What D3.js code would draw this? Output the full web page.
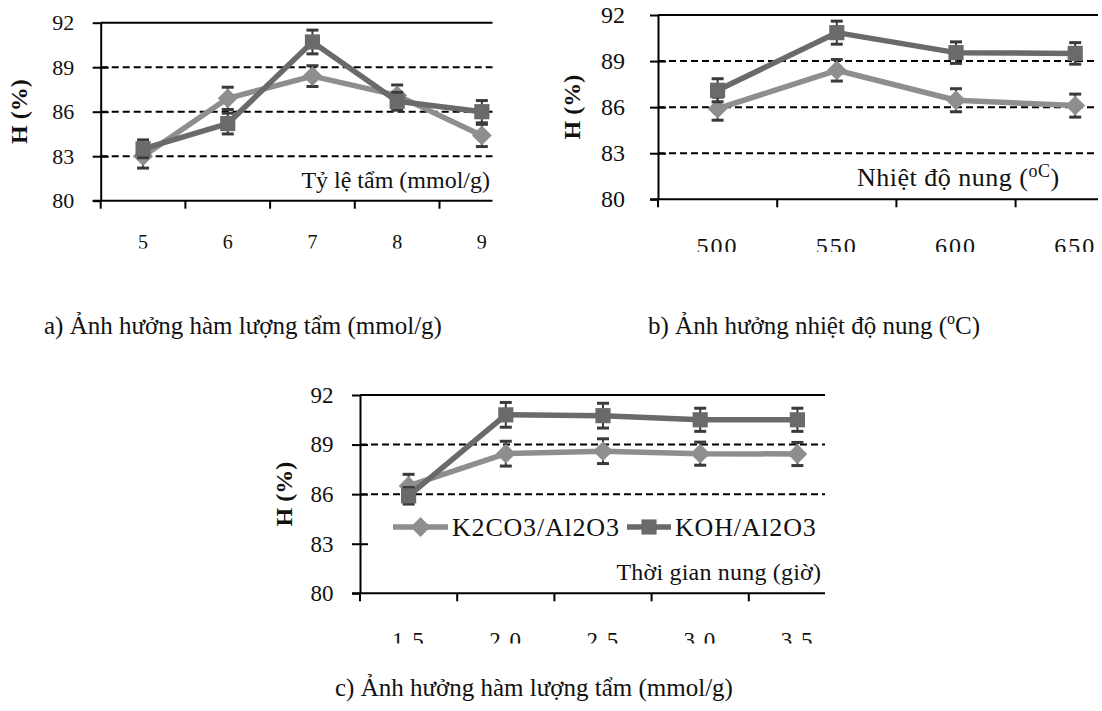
<!DOCTYPE html>
<html>
<head>
<meta charset="utf-8">
<script src="https://cdn.jsdelivr.net/npm/d3@7"></script>
<style>
  body { margin: 0; background: #fff; }
  svg, svg text { font-family: "Liberation Serif", "Times New Roman", Times, "DejaVu Serif", serif !important; }
</style>
</head>
<body>
<svg id="fig" width="1102" height="711"></svg>
<script>
// data
var yTicks = [80, 83, 86, 89, 92];
var seriesNames = ["K2CO3/Al2O3", "KOH/Al2O3"];

var catsA = ["5", "6", "7", "8", "9"];
var k2co3A = [83.0, 86.9, 88.4, 87.1, 84.4];
var kohA = [83.5, 85.2, 90.7, 86.7, 86.0];
var errK2co3A = [0.8, 0.75, 0.7, 0.7, 0.75];
var errKohA = [0.6, 0.7, 0.8, 0.6, 0.75];

var catsB = ["500", "550", "600", "650"];
var k2co3B = [85.9, 88.4, 86.45, 86.1];
var kohB = [87.1, 90.85, 89.55, 89.5];
var errK2co3B = [0.75, 0.7, 0.75, 0.75];
var errKohB = [0.75, 0.75, 0.7, 0.7];

var catsC = ["1.5", "2.0", "2.5", "3.0", "3.5"];
var k2co3C = [86.5, 88.45, 88.6, 88.45, 88.43];
var kohC = [85.9, 90.8, 90.75, 90.5, 90.5];
var errK2co3C = [0.7, 0.75, 0.75, 0.7, 0.7];
var errKohC = [0.5, 0.75, 0.75, 0.7, 0.7];

var colK2co3 = "#8e8e8e";
var colKoh = "#6a6a6a";
var colErr = "#3a3a3a";

var svg = d3.select("#fig");

function marker(shape) {
    return shape == "square"
        ? d3.symbol().type(d3.symbolSquare).size(230)
        : d3.symbol().type(d3.symbolDiamond2).size(250);
}

function drawPanel(p) {
    var g = svg.append("g").attr("id", p.id);

    var x = d3.scaleBand().domain(p.cats).range([p.x0, p.bandEnd]).paddingInner(0).paddingOuter(0);
    var y = d3.scaleLinear().domain([80, 92]).range([p.yBottom, p.yTop]);

    // dashed gridlines
    g.selectAll(".grid")
        .data(p.grid)
        .enter()
        .append("line")
        .attr("x1", p.x0).attr("x2", p.x1)
        .attr("y1", function(d) { return y(d); })
        .attr("y2", function(d) { return y(d); })
        .attr("stroke", "#000")
        .attr("stroke-width", 2)
        .attr("stroke-dasharray", "7,4");

    // top border of the plot area
    g.append("line")
        .attr("x1", p.x0).attr("x2", p.x1)
        .attr("y1", y(92)).attr("y2", y(92))
        .attr("stroke", "#000").attr("stroke-width", 2);

    // y axis with labels
    var yAxis = g.append("g")
        .attr("transform", "translate(" + p.x0 + ",0)")
        .call(d3.axisLeft(y).tickValues(yTicks).tickSizeInner(8).tickSizeOuter(0).tickPadding(p.yPad));
    yAxis.attr("font-family", null);
    yAxis.select(".domain").attr("stroke-width", 2);
    yAxis.selectAll(".tick line").attr("stroke-width", 2);
    yAxis.selectAll(".tick text")
        .attr("font-size", p.yFont)
        .attr("fill", "#111");
    // inner half of the crossing y ticks
    g.append("g")
        .attr("transform", "translate(" + p.x0 + ",0)")
        .call(d3.axisRight(y).tickValues(yTicks.slice(1, 4)).tickSize(8).tickFormat(""))
        .call(function(s) { s.select(".domain").remove(); s.selectAll("line").attr("stroke-width", 2); });

    // x axis line and boundary ticks
    g.append("line")
        .attr("x1", p.x0 - 8).attr("x2", p.x1)
        .attr("y1", y(80)).attr("y2", y(80))
        .attr("stroke", "#000").attr("stroke-width", 2);
    var bounds = p.cats.map(function(c) { return x(c); }).filter(function(v) { return v < p.x1; });
    g.selectAll(".xtick")
        .data(bounds)
        .enter()
        .append("line")
        .attr("x1", function(d) { return d; }).attr("x2", function(d) { return d; })
        .attr("y1", y(80)).attr("y2", y(80) + 8)
        .attr("stroke", "#000").attr("stroke-width", 2);

    // x labels, cut off at the bottom like the scan
    svg.append("clipPath").attr("id", "clip-" + p.id)
        .append("rect").attr("x", -40).attr("y", 0).attr("width", 1200).attr("height", p.labelCut - y(80));
    var xAxis = g.append("g")
        .attr("transform", "translate(0," + y(80) + ")")
        .attr("clip-path", "url(#clip-" + p.id + ")")
        .call(d3.axisBottom(x).tickSize(0).tickPadding(p.xPad));
    xAxis.attr("font-family", null);
    xAxis.select(".domain").remove();
    xAxis.selectAll(".tick text")
        .attr("font-size", p.xFont)
        .attr("letter-spacing", p.xSpacing)
        .attr("fill", "#111");

    // y title
    g.append("text")
        .attr("transform", "translate(" + p.yTitleX + "," + ((p.yTop + p.yBottom) / 2) + ") rotate(-90)")
        .attr("text-anchor", "middle")
        .attr("dominant-baseline", "central")
        .attr("font-size", 24)
        .attr("font-weight", "bold")
        .attr("fill", "#111")
        .text("H (%)");

    // x title inside the plot
    var t = g.append("text")
        .attr("x", p.titleX).attr("y", p.titleY)
        .attr("font-size", p.titleFont)
        .attr("letter-spacing", p.titleSpacing)
        .attr("fill", "#111");
    p.title(t);

    var cx = function(d, i) { return x(p.cats[i]) + x.bandwidth() / 2; };

    var series = [
        { vals: p.k2co3, err: p.errK2co3, col: colK2co3, shape: "diamond" },
        { vals: p.koh, err: p.errKoh, col: colKoh, shape: "square" }
    ];

    series.forEach(function(s) {
        var line = d3.line()
            .x(function(d, i) { return cx(d, i); })
            .y(function(d) { return y(d); });
        g.append("path")
            .attr("d", line(s.vals))
            .attr("fill", "none")
            .attr("stroke", s.col)
            .attr("stroke-width", 5.5)
            .attr("stroke-linejoin", "round");

        // error bars
        var eb = g.selectAll(null).data(s.vals).enter().append("g");
        eb.append("line")
            .attr("x1", cx).attr("x2", cx)
            .attr("y1", function(d, i) { return y(d + s.err[i]); })
            .attr("y2", function(d, i) { return y(d - s.err[i]); })
            .attr("stroke", colErr).attr("stroke-width", 2);
        [1, -1].forEach(function(sign) {
            eb.append("line")
                .attr("x1", function(d, i) { return cx(d, i) - 6; })
                .attr("x2", function(d, i) { return cx(d, i) + 6; })
                .attr("y1", function(d, i) { return y(d + sign * s.err[i]); })
                .attr("y2", function(d, i) { return y(d + sign * s.err[i]); })
                .attr("stroke", colErr).attr("stroke-width", 3);
        });

        // markers
        g.selectAll(null).data(s.vals).enter()
            .append("path")
            .attr("d", marker(s.shape))
            .attr("transform", function(d, i) { return "translate(" + cx(d, i) + "," + y(d) + ")"; })
            .attr("fill", s.col);
    });

    if (p.legend) {
        var lg = g.append("g");
        var items = [
            { name: seriesNames[0], col: colK2co3, shape: "diamond", x1: 393, x2: 448, tx: 452 },
            { name: seriesNames[1], col: colKoh, shape: "square", x1: 627, x2: 671, tx: 675 }
        ];
        items.forEach(function(it) {
            lg.append("line")
                .attr("x1", it.x1).attr("x2", it.x2)
                .attr("y1", p.legendY).attr("y2", p.legendY)
                .attr("stroke", it.col).attr("stroke-width", 5.5);
            lg.append("path")
                .attr("d", marker(it.shape))
                .attr("transform", "translate(" + ((it.x1 + it.x2) / 2) + "," + p.legendY + ")")
                .attr("fill", it.col);
            lg.append("text")
                .attr("x", it.tx).attr("y", p.legendY)
                .attr("dominant-baseline", "central")
                .attr("font-size", 26)
                .attr("letter-spacing", 0.8)
                .attr("fill", "#111")
                .text(it.name);
        });
    }
}

drawPanel({
    id: "pa", cats: catsA, k2co3: k2co3A, koh: kohA, errK2co3: errK2co3A, errKoh: errKohA,
    x0: 100.7, x1: 492.5, bandEnd: 524.2, yTop: 22.7, yBottom: 200.7,
    grid: [83, 86, 89], yFont: 22, yPad: 18.5, xFont: 20, xPad: 34, xSpacing: 0, labelCut: 248.5,
    yTitleX: 19, titleX: 490, titleY: 188, titleFont: 24, titleSpacing: 0,
    title: function(t) { t.attr("text-anchor", "end").text("Tỷ lệ tẩm (mmol/g)"); }
});

drawPanel({
    id: "pb", cats: catsB, k2co3: k2co3B, koh: kohB, errK2co3: errK2co3B, errKoh: errKohB,
    x0: 658, x1: 1098, bandEnd: 1134.8, yTop: 15, yBottom: 199.3,
    grid: [83, 86, 89], yFont: 24, yPad: 25, xFont: 24, xPad: 38, xSpacing: 2, labelCut: 252,
    yTitleX: 572, titleX: 857, titleY: 186, titleFont: 26, titleSpacing: 0.5,
    title: function(t) {
        t.append("tspan").text("Nhiệt độ nung (");
        t.append("tspan").attr("font-size", 18).attr("dy", -9).text("oC");
        t.append("tspan").attr("dy", 9).text(")");
    }
});

drawPanel({
    id: "pc", cats: catsC, k2co3: k2co3C, koh: kohC, errK2co3: errK2co3C, errKoh: errKohC,
    x0: 360, x1: 825, bandEnd: 846, yTop: 395, yBottom: 593.3,
    grid: [86, 89], yFont: 23, yPad: 18.5, xFont: 23, xPad: 38, xSpacing: 1.5, labelCut: 643.5,
    yTitleX: 283.5, titleX: 616.5, titleY: 580, titleFont: 24, titleSpacing: 0.2,
    legend: true, legendY: 527,
    title: function(t) { t.text("Thời gian nung (giờ)"); }
});

// captions
svg.append("text")
    .attr("x", 44).attr("y", 334)
    .attr("font-size", 25).attr("fill", "#111")
    .text("a) Ảnh hưởng hàm lượng tẩm (mmol/g)");

var cb = svg.append("text")
    .attr("x", 648).attr("y", 334)
    .attr("font-size", 25).attr("fill", "#111");
cb.append("tspan").text("b) Ảnh hưởng nhiệt độ nung (");
cb.append("tspan").attr("font-size", 16).attr("dy", -10).text("o");
cb.append("tspan").attr("dy", 10).text("C)");

svg.append("text")
    .attr("x", 335).attr("y", 696)
    .attr("font-size", 25).attr("fill", "#111")
    .text("c) Ảnh hưởng hàm lượng tẩm (mmol/g)");
</script>
</body>
</html>
